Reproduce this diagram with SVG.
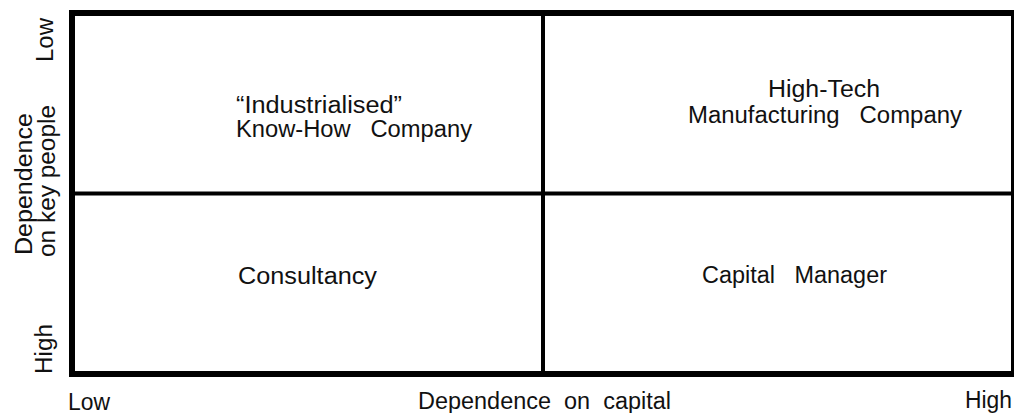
<svg xmlns="http://www.w3.org/2000/svg" width="1014" height="413" viewBox="0 0 1014 413">
  <style>
    text { font-family: "Liberation Sans", Arial, sans-serif; font-size: 23px; fill: #111; white-space: pre; }
    .frame { fill: none; stroke: #000; stroke-width: 6; }
    .divider { stroke: #000; stroke-width: 4; }
    .mid { text-anchor: middle; }
  </style>
  <rect width="1014" height="413" fill="#fff"/>

  <!-- matrix frame and quadrant dividers -->
  <g id="grid">
    <rect class="frame" x="72" y="13" width="942" height="361"/>
    <line class="divider" x1="543" y1="13" x2="543" y2="374"/>
    <line class="divider" x1="72" y1="193.5" x2="1014" y2="193.5"/>
  </g>

  <!-- quadrants -->
  <g id="q-industrialised">
    <text x="236" y="113" textLength="166" lengthAdjust="spacingAndGlyphs">“Industrialised”</text>
    <text x="236" y="137" textLength="236" lengthAdjust="spacingAndGlyphs">Know-How   Company</text>
  </g>
  <g id="q-hightech">
    <text x="768" y="97" textLength="112" lengthAdjust="spacingAndGlyphs">High-Tech</text>
    <text x="688" y="123" textLength="274" lengthAdjust="spacingAndGlyphs">Manufacturing   Company</text>
  </g>
  <g id="q-consultancy">
    <text x="238" y="284" textLength="139" lengthAdjust="spacingAndGlyphs">Consultancy</text>
  </g>
  <g id="q-capital">
    <text x="702" y="283" textLength="185" lengthAdjust="spacingAndGlyphs">Capital   Manager</text>
  </g>

  <!-- horizontal axis -->
  <g id="x-axis">
    <text x="68" y="410" textLength="42" lengthAdjust="spacingAndGlyphs">Low</text>
    <text x="418" y="409" textLength="253" lengthAdjust="spacingAndGlyphs">Dependence  on  capital</text>
    <text x="965" y="408" textLength="47" lengthAdjust="spacingAndGlyphs">High</text>
  </g>

  <!-- vertical axis -->
  <g id="y-axis">
    <text class="mid" transform="translate(53,40) rotate(-90)" textLength="44" lengthAdjust="spacingAndGlyphs">Low</text>
    <text class="mid" transform="translate(32,184) rotate(-90)" textLength="142" lengthAdjust="spacingAndGlyphs">Dependence</text>
    <text class="mid" transform="translate(55,181) rotate(-90)" textLength="152" lengthAdjust="spacingAndGlyphs">on key people</text>
    <text class="mid" transform="translate(52,349) rotate(-90)" textLength="50" lengthAdjust="spacingAndGlyphs">High</text>
  </g>
</svg>
